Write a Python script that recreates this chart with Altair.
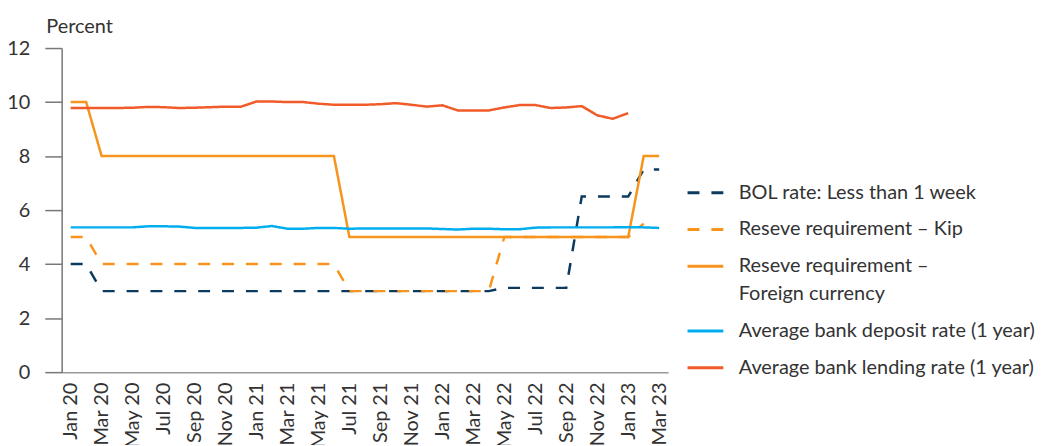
import altair as alt
import pandas as pd

months = ["Jan 20", "Feb 20", "Mar 20", "Apr 20", "May 20", "Jun 20", "Jul 20", "Aug 20",
          "Sep 20", "Oct 20", "Nov 20", "Dec 20", "Jan 21", "Feb 21", "Mar 21", "Apr 21",
          "May 21", "Jun 21", "Jul 21", "Aug 21", "Sep 21", "Oct 21", "Nov 21", "Dec 21",
          "Jan 22", "Feb 22", "Mar 22", "Apr 22", "May 22", "Jun 22", "Jul 22", "Aug 22",
          "Sep 22", "Oct 22", "Nov 22", "Dec 22", "Jan 23", "Feb 23", "Mar 23"]
tick_months = ["Jan 20", "Mar 20", "May 20", "Jul 20", "Sep 20", "Nov 20", "Jan 21", "Mar 21",
               "May 21", "Jul 21", "Sep 21", "Nov 21", "Jan 22", "Mar 22", "May 22", "Jul 22",
               "Sep 22", "Nov 22", "Jan 23", "Mar 23"]

series_names = ["BOL rate: Less than 1 week",
                "Reseve requirement – Kip",
                "Reseve requirement – Foreign currency",
                "Average bank deposit rate (1 year)",
                "Average bank lending rate (1 year)"]

bol_rate = [4, 4, 3, 3, 3, 3, 3, 3, 3, 3, 3, 3, 3, 3, 3, 3, 3, 3, 3, 3, 3, 3, 3, 3,
            3, 3, 3, 3, 3.12, 3.12, 3.12, 3.12, 3.12, 6.5, 6.5, 6.5, 6.5, 7.5, 7.5]
rr_kip = [5, 5, 4, 4, 4, 4, 4, 4, 4, 4, 4, 4, 4, 4, 4, 4, 4, 4, 3, 3, 3, 3, 3, 3,
          3, 3, 3, 3, 5, 5, 5, 5, 5, 5, 5, 5, 5, 5.5, None]
rr_fx = [10, 10, 8, 8, 8, 8, 8, 8, 8, 8, 8, 8, 8, 8, 8, 8, 8, 8, 5, 5, 5, 5, 5, 5,
         5, 5, 5, 5, 5, 5, 5, 5, 5, 5, 5, 5, 5, 8, 8]
deposit = [5.36, 5.36, 5.36, 5.36, 5.36, 5.40, 5.40, 5.39, 5.34, 5.34, 5.34, 5.34, 5.35,
           5.41, 5.31, 5.31, 5.34, 5.34, 5.31, 5.32, 5.32, 5.32, 5.32, 5.32, 5.30, 5.28,
           5.31, 5.31, 5.29, 5.29, 5.35, 5.36, 5.36, 5.36, 5.36, 5.36, 5.37, 5.36, 5.34]
lending = [9.78, 9.78, 9.78, 9.78, 9.79, 9.82, 9.81, 9.78, 9.79, 9.81, 9.83, 9.83, 10.02,
           10.02, 10.0, 10.0, 9.94, 9.9, 9.9, 9.9, 9.92, 9.96, 9.9, 9.83, 9.88, 9.69,
           9.69, 9.69, 9.8, 9.89, 9.89, 9.78, 9.8, 9.85, 9.51, 9.38, 9.59, None, None]

colors = ["#0c3a5e", "#f7941d", "#f7941d", "#00aeef", "#f15a29"]
dashes = [[12, 12], [12, 12], [1, 0], [1, 0], [1, 0]]

rows = []
for name, vals in zip(series_names, [bol_rate, rr_kip, rr_fx, deposit, lending]):
    for i, (m, v) in enumerate(zip(months, vals)):
        if v is not None:
            rows.append({"month": m, "idx": i, "series": name, "value": v})
df = pd.DataFrame(rows)

FS = 20
TXT = "#333333"

legend = alt.Legend(
    title=None, orient="none", legendX=628, legendY=126,
    symbolType="stroke", symbolSize=1296, symbolStrokeWidth=3,
    labelFontSize=FS, labelColor=TXT, labelFont="Lato",
    labelOffset=14, labelLimit=400, rowPadding=7,
    labelExpr="datum.label == 'Reseve requirement – Foreign currency' ? ['Reseve requirement –', 'Foreign currency'] : datum.label",
)

chart = alt.Chart(df).mark_line(strokeWidth=2.5).encode(
    x=alt.X("month:O", sort=months,
            scale=alt.Scale(type="point", padding=0.58),
            axis=alt.Axis(values=tick_months, labelAngle=-90, ticks=False, title=None,
                          labelPadding=10, labelFontSize=FS, labelColor=TXT,
                          domainColor="#999999", domainWidth=1.5)),
    y=alt.Y("value:Q", scale=alt.Scale(domain=[0, 12], nice=False),
            axis=alt.Axis(values=[0, 2, 4, 6, 8, 10, 12], tickSize=17, labelPadding=15,
                          grid=False, title="Percent", titleAngle=0, titleAlign="left",
                          titleBaseline="middle", titleX=-16, titleY=-22,
                          titleFontSize=FS, titleFontWeight="normal", titleColor=TXT,
                          labelFontSize=FS, labelColor=TXT,
                          domainColor="#777777", tickColor="#777777", domainWidth=1.5, tickWidth=1.5)),
    color=alt.Color("series:N", sort=series_names,
                    scale=alt.Scale(domain=series_names, range=colors), legend=legend),
    strokeDash=alt.StrokeDash("series:N", sort=series_names,
                              scale=alt.Scale(domain=series_names, range=dashes), legend=legend),
    order=alt.Order("idx:Q"),
).properties(
    width=610, height=326,
    autosize=alt.AutoSizeParams(type="none"),
    padding={"left": 54, "top": 39, "right": 370, "bottom": 72},
).configure(
    font="Lato",
    style={"guide-label": {"lineHeight": 28}},
).configure_view(
    stroke=None
)

chart.save("out.html", embed_options={"renderer": "svg", "actions": False})
